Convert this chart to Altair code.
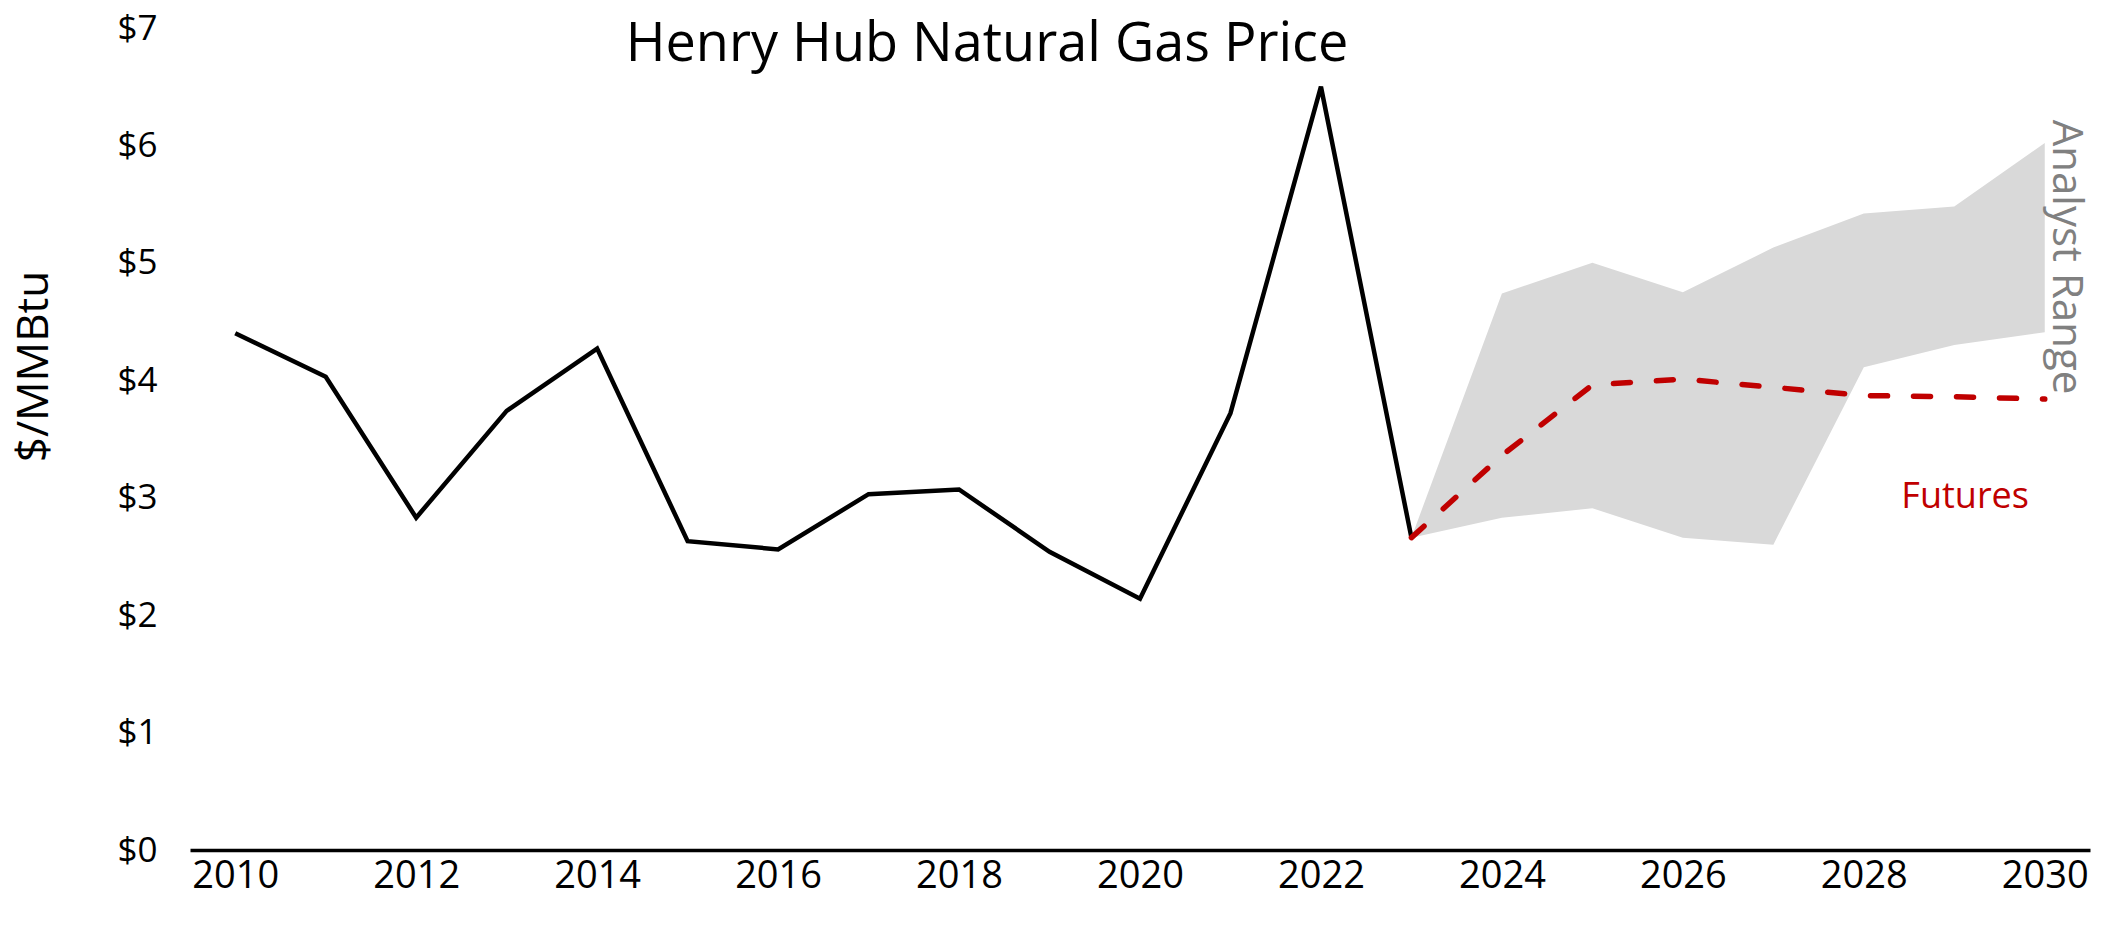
import altair as alt
import pandas as pd

# Historical Henry Hub prices ($/MMBtu)
hist_years = list(range(2010, 2024))
hist_price = [4.40, 4.03, 2.83, 3.74, 4.27, 2.63, 2.56, 3.03, 3.07, 2.54, 2.14, 3.72, 6.50, 2.66]

# Forecast period
fc_years = list(range(2023, 2031))
futures = [2.66, 3.36, 3.96, 4.01, 3.94, 3.87, 3.86, 3.84]
analyst_low = [2.66, 2.83, 2.91, 2.66, 2.60, 4.11, 4.30, 4.41]
analyst_high = [2.66, 4.74, 5.00, 4.75, 5.13, 5.42, 5.48, 6.02]

x_ticks = list(range(2010, 2031, 2))
y_ticks = list(range(0, 8))

FONT = "Open Sans"

hist_df = pd.DataFrame({"year": hist_years, "price": hist_price})
fc_df = pd.DataFrame({"year": fc_years, "futures": futures,
                      "low": analyst_low, "high": analyst_high})

x_scale = alt.Scale(domain=[2009.5, 2030.5], nice=False, zero=False)
y_scale = alt.Scale(domain=[0, 7], nice=False)

x_axis = alt.Axis(values=x_ticks, format="d", title=None, grid=False, ticks=False,
                  domain=True, domainColor="#000000", domainWidth=3.5,
                  labelFont=FONT, labelFontSize=38, labelColor="#000000",
                  labelPadding=7, labelFlush=False)
y_axis = alt.Axis(values=y_ticks, labelExpr="'$' + datum.value", title="$/MMBtu",
                  grid=False, ticks=False, domain=False,
                  labelFont=FONT, labelFontSize=35, labelColor="#000000",
                  labelPadding=33, labelBaseline="middle",
                  titleFont=FONT, titleFontSize=44, titleFontWeight="normal",
                  titleColor="#000000", titleX=-156, titleY=338,
                  titleAlign="center", titleBaseline="middle", titleAngle=270)

band = alt.Chart(fc_df).mark_area(color="#D9D9D9", opacity=1).encode(
    x=alt.X("year:Q", scale=x_scale, axis=x_axis),
    y=alt.Y("low:Q", scale=y_scale, axis=y_axis),
    y2="high:Q",
)

hist_line = alt.Chart(hist_df).mark_line(color="#000000", strokeWidth=4.5,
                                         strokeJoin="miter").encode(
    x=alt.X("year:Q", scale=x_scale),
    y=alt.Y("price:Q", scale=y_scale),
)

fut_line = alt.Chart(fc_df).mark_line(color="#C00000", strokeWidth=5.5,
                                      strokeDash=[17, 26], strokeCap="round").encode(
    x=alt.X("year:Q", scale=x_scale),
    y=alt.Y("futures:Q", scale=y_scale),
)

labels_df = pd.DataFrame({
    "year": [2029.12, 2030.24],
    "value": [3.01, 5.05],
    "text": ["Futures", "Analyst Range"],
})

fut_label = alt.Chart(labels_df.iloc[[0]]).mark_text(
    font=FONT, fontSize=36, color="#C00000", align="center", baseline="middle"
).encode(x=alt.X("year:Q", scale=x_scale), y=alt.Y("value:Q", scale=y_scale), text="text:N")

range_label = alt.Chart(labels_df.iloc[[1]]).mark_text(
    font=FONT, fontSize=42, color="#808080", align="center", baseline="middle", angle=90
).encode(x=alt.X("year:Q", scale=x_scale), y=alt.Y("value:Q", scale=y_scale), text="text:N")

title_df = pd.DataFrame({"text": ["Henry Hub Natural Gas Price"]})
title = alt.Chart(title_df).mark_text(
    font=FONT, fontSize=54, color="#000000", align="center", baseline="middle"
).encode(x=alt.value(797), y=alt.value(17), text="text:N")

chart = alt.layer(band, hist_line, fut_line, fut_label, range_label, title).properties(
    width=1900, height=822,
    autosize=alt.AutoSizeParams(type="none"),
    padding={"left": 182, "top": 20, "right": 3, "bottom": 70},
    background="#FFFFFF",
).configure_view(stroke=None)

chart.save("out.html", embed_options={"renderer": "svg", "actions": False})
